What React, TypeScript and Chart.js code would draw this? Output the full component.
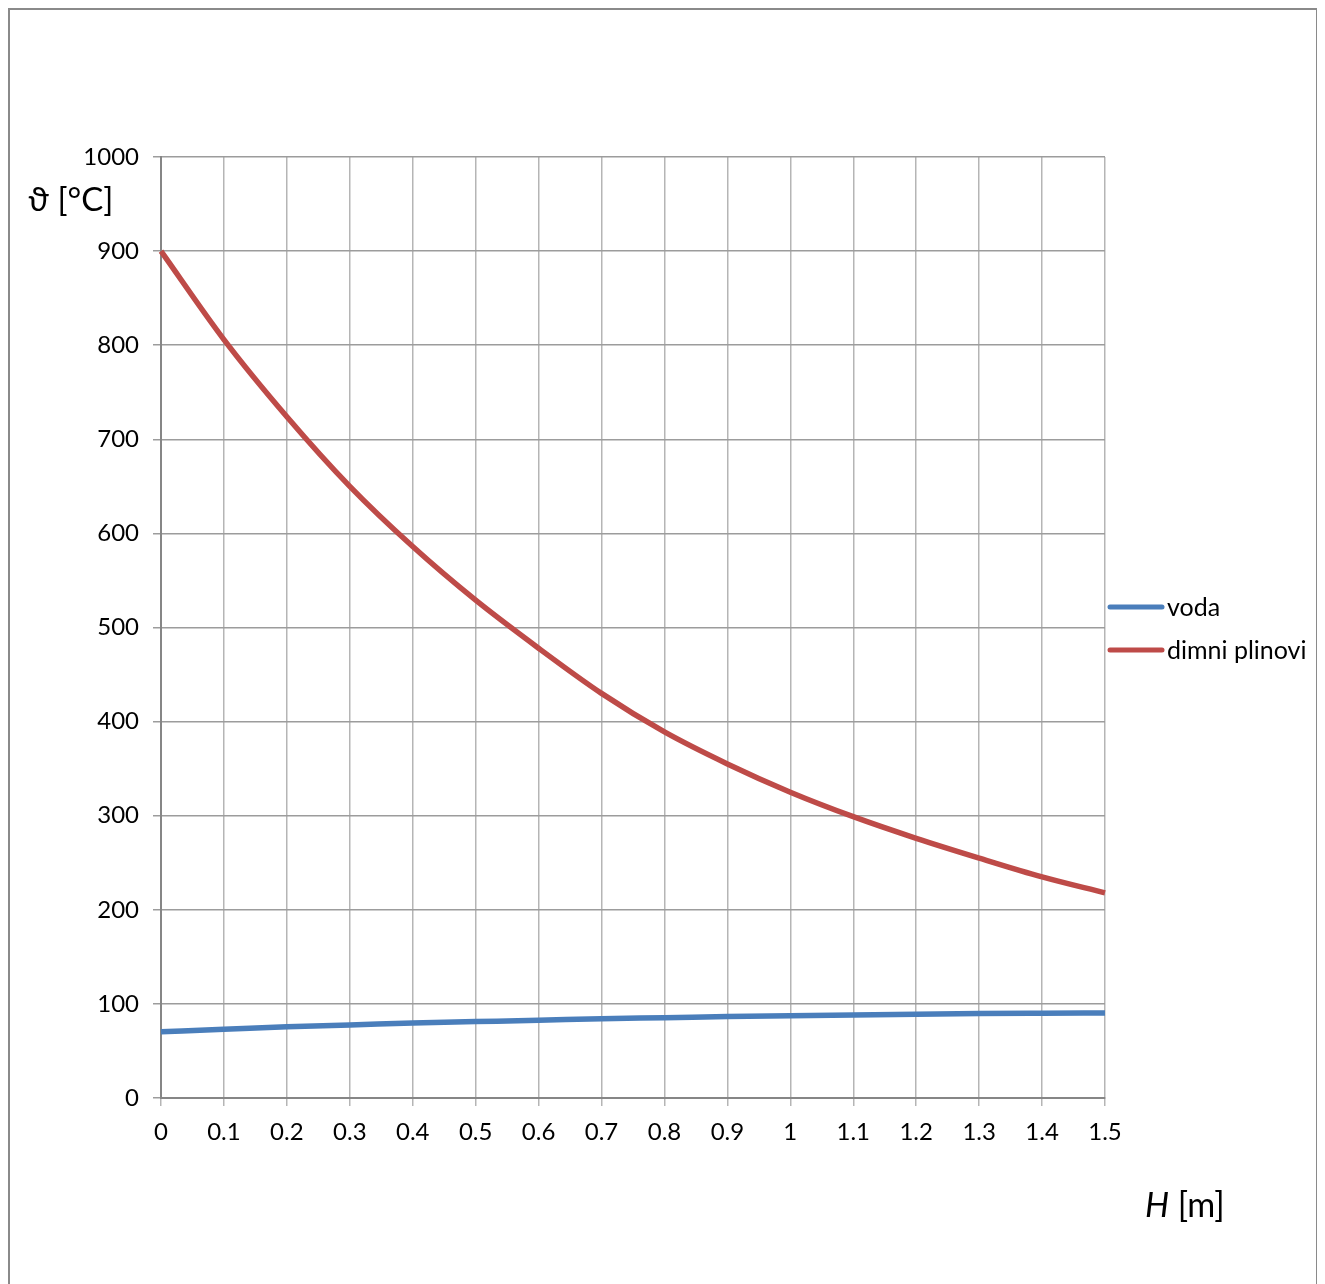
import React, { useEffect, useRef } from "react";
import { Chart, registerables } from "chart.js";

Chart.register(...registerables);

const heights = [0, 0.1, 0.2, 0.3, 0.4, 0.5, 0.6, 0.7, 0.8, 0.9, 1.0, 1.1, 1.2, 1.3, 1.4, 1.5];
const voda = [70.5, 73, 75.8, 77.6, 79.8, 81.2, 82.6, 84.2, 85.3, 86.5, 87.5, 88.3, 89, 89.7, 90.1, 90.4];
const dimniPlinovi = [900, 806, 724, 650, 586, 529, 478, 430, 389, 355, 325, 299, 276, 255, 235, 218];
const seriesNames = ["voda", "dimni plinovi"];
const seriesColors = ["#4A7EBB", "#BE4B48"];
const yTitle = "ϑ [°C]";
const xTitleItalic = "H";
const xTitleRest = " [m]";

const FONT = "Lato, 'Open Sans', 'DejaVu Sans', sans-serif";
const W = 1306;
const H = 1300;

export default function App() {
  const ref = useRef<HTMLCanvasElement | null>(null);

  useEffect(() => {
    if (!ref.current) return;
    const decor = {
      id: "decor",
      afterDraw(chart: any) {
        const ctx = chart.ctx;
        ctx.save();
        ctx.fillStyle = "#000";
        ctx.textBaseline = "middle";
        ctx.textAlign = "left";
        ctx.font = `33px ${FONT}`;
        ctx.fillText(yTitle, 18, 190);
        ctx.font = `italic 34px ${FONT}`;
        ctx.fillText(xTitleItalic, 1135, 1196);
        const w = ctx.measureText(xTitleItalic).width;
        ctx.font = `34px ${FONT}`;
        ctx.fillText(xTitleRest, 1135 + w, 1196);
        const ys = [597, 640];
        seriesNames.forEach((name, i) => {
          ctx.strokeStyle = seriesColors[i];
          ctx.lineWidth = 5;
          ctx.lineCap = "round";
          ctx.beginPath();
          ctx.moveTo(1100, ys[i]);
          ctx.lineTo(1152, ys[i]);
          ctx.stroke();
          ctx.fillStyle = "#000";
          ctx.font = `25px ${FONT}`;
          ctx.fillText(name, 1157, ys[i] + 1);
        });
        ctx.restore();
      },
    };

    const chart = new Chart(ref.current, {
      type: "line",
      data: {
        datasets: [
          {
            label: seriesNames[0],
            data: heights.map((x, i) => ({ x, y: voda[i] })),
            borderColor: seriesColors[0],
            borderWidth: 5.5,
            pointRadius: 0,
            cubicInterpolationMode: "monotone",
            clip: false as any,
          },
          {
            label: seriesNames[1],
            data: heights.map((x, i) => ({ x, y: dimniPlinovi[i] })),
            borderColor: seriesColors[1],
            borderWidth: 5.5,
            pointRadius: 0,
            cubicInterpolationMode: "monotone",
            clip: false as any,
          },
        ],
      },
      options: {
        animation: false,
        responsive: false,
        devicePixelRatio: 1,
        layout: { padding: { left: 0, right: 211, top: 147, bottom: 0 } },
        plugins: { legend: { display: false }, tooltip: { enabled: false } },
        scales: {
          x: {
            type: "linear",
            min: 0,
            max: 1.5,
            afterFit(scale: any) {
              scale.height = H - 1088;
            },
            ticks: {
              stepSize: 0.1,
              color: "#000",
              font: { family: FONT, size: 24 },
              padding: 12,
              maxRotation: 0,
              autoSkip: false,
              callback: (v: any) => String(Number(Number(v).toFixed(1))),
            },
            grid: { color: "#b5b5b5", lineWidth: 1.5, tickLength: 8, drawTicks: true },
            border: { color: "#868686", width: 2 },
          },
          y: {
            min: 0,
            max: 1000,
            afterFit(scale: any) {
              scale.width = 151;
            },
            ticks: {
              stepSize: 100,
              color: "#000",
              font: { family: FONT, size: 24 },
              padding: 14,
              callback: (v: any) => String(v),
            },
            grid: { color: "#9c9c9c", lineWidth: 1.5, tickLength: 8, drawTicks: true },
            border: { color: "#868686", width: 2 },
          },
        },
      },
      plugins: [decor],
    });
    return () => chart.destroy();
  }, []);

  return (
    <div
      style={{
        width: W,
        height: H,
        border: "2px solid #8a8a8a",
        background: "#fff",
      }}
    >
      <canvas ref={ref} width={W} height={H} style={{ display: "block", width: W, height: H }} />
    </div>
  );
}
